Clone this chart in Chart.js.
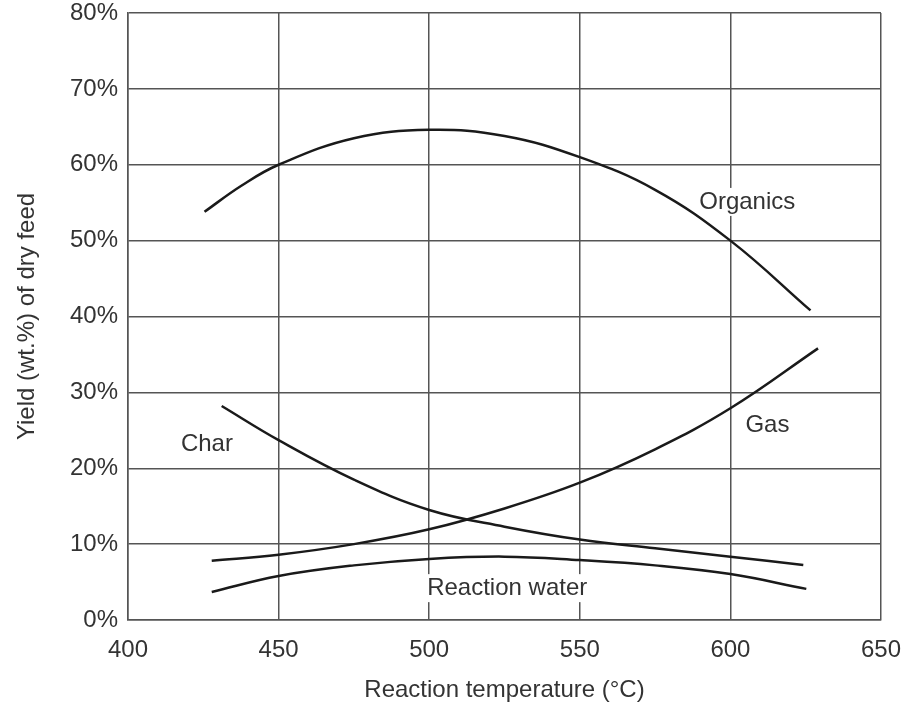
<!DOCTYPE html>
<html>
<head>
<meta charset="utf-8">
<script src="https://cdn.jsdelivr.net/npm/chart.js@4/dist/chart.umd.min.js"></script>
<style>
  body { margin: 0; background: #fff; }
</style>
</head>
<body>
<canvas id="chart" width="908" height="705"></canvas>
<script>
// yields (wt.% of dry feed)
const organicsTemp = [425.4, 437.5, 450, 475, 500, 525, 550, 575, 600, 626.6];
const organicsYield = [53.8, 57.2, 60.0, 63.5, 64.6, 63.8, 61.0, 56.7, 50.0, 40.8];

const gasTemp = [427.8, 450, 475, 500, 525, 550, 575, 600, 629.1];
const gasYield = [7.8, 8.6, 10.0, 11.95, 14.7, 18.1, 22.5, 27.9, 35.8];

const charTemp = [431.1, 450, 475, 500, 525, 550, 575, 600, 624.2];
const charYield = [28.2, 23.7, 18.5, 14.5, 12.3, 10.6, 9.45, 8.35, 7.25];

const waterTemp = [427.8, 450, 475, 500, 525, 550, 575, 600, 625.2];
const waterYield = [3.7, 5.8, 7.2, 8.05, 8.35, 7.9, 7.2, 6.05, 4.1];

const seriesNames = ['Organics', 'Gas', 'Char', 'Reaction water'];

// where each curve name sits, in data units
const labelTemps = [605.6, 612.3, 426.2, 525.9];
const labelYields = [55.1, 25.7, 23.1, 4.2];

const fontFamily = '"Liberation Sans", Arial, sans-serif';
const textColor = '#333';
const gridColor = '#555';

function points(xs, ys) {
  return xs.map((x, i) => ({ x: x, y: ys[i] }));
}

function curve(label, xs, ys) {
  return {
    label: label,
    data: points(xs, ys),
    borderColor: '#1a1a1a',
    borderWidth: 2.5,
    pointRadius: 0,
    fill: false,
    tension: 0.4
  };
}

// let layout.padding alone decide the plot edges
function fixSize(prop, size) {
  return (scale) => {
    scale[prop] = size;
    scale.paddingTop = 0;
    scale.paddingBottom = 0;
    scale.paddingLeft = 0;
    scale.paddingRight = 0;
  };
}

const curveLabels = {
  id: 'curveLabels',
  beforeDatasetsDraw(chart) {
    const ctx = chart.ctx;
    const xs = chart.scales.x, ys = chart.scales.y;
    ctx.save();
    ctx.font = '24px ' + fontFamily;
    ctx.textAlign = 'center';
    ctx.textBaseline = 'middle';
    seriesNames.forEach((name, i) => {
      const px = xs.getPixelForValue(labelTemps[i]);
      const py = ys.getPixelForValue(labelYields[i]);
      const w = ctx.measureText(name).width;
      ctx.fillStyle = '#fff';
      ctx.fillRect(px - w / 2 - 4, py - 14, w + 8, 28);
      ctx.fillStyle = textColor;
      ctx.fillText(name, px, py);
    });
    ctx.restore();
  }
};

new Chart(document.getElementById('chart'), {
  type: 'line',
  data: {
    datasets: [
      curve(seriesNames[0], organicsTemp, organicsYield),
      curve(seriesNames[1], gasTemp, gasYield),
      curve(seriesNames[2], charTemp, charYield),
      curve(seriesNames[3], waterTemp, waterYield)
    ]
  },
  options: {
    responsive: false,
    animation: false,
    layout: { padding: { top: 13, right: 27, left: 0, bottom: 0 } },
    plugins: {
      legend: { display: false },
      tooltip: { enabled: false }
    },
    scales: {
      x: {
        type: 'linear',
        min: 400,
        max: 650,
        afterFit: fixSize('height', 85),
        ticks: {
          stepSize: 50,
          padding: 16,
          color: textColor,
          font: { family: fontFamily, size: 24 }
        },
        grid: { color: gridColor, lineWidth: 1.5, drawTicks: false },
        border: { color: gridColor, width: 1.5 },
        title: {
          display: true,
          text: 'Reaction temperature (°C)',
          color: textColor,
          font: { family: fontFamily, size: 24 },
          padding: { top: 0, bottom: 0 }
        }
      },
      y: {
        min: 0,
        max: 80,
        afterFit: fixSize('width', 128),
        ticks: {
          stepSize: 10,
          padding: 10,
          color: textColor,
          font: { family: fontFamily, size: 24 },
          callback: (v) => v + '%'
        },
        grid: { color: gridColor, lineWidth: 1.5, drawTicks: false },
        border: { color: gridColor, width: 1.5 },
        title: {
          display: true,
          text: 'Yield (wt.%) of dry feed',
          color: textColor,
          font: { family: fontFamily, size: 24 },
          padding: { top: 13, bottom: 0 }
        }
      }
    }
  },
  plugins: [curveLabels]
});
</script>
</body>
</html>
